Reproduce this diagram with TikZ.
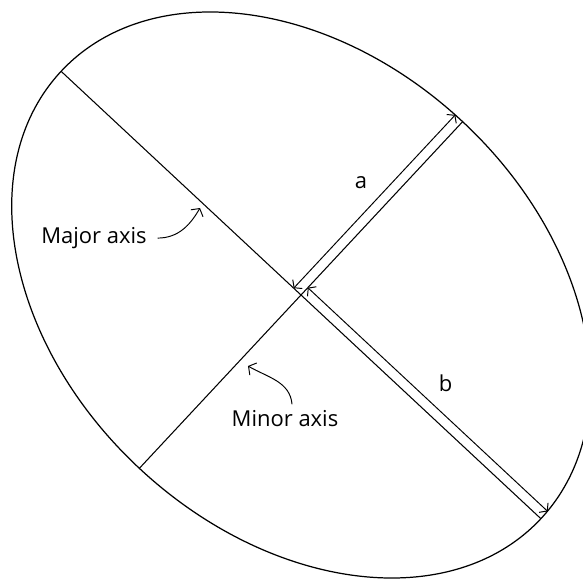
\documentclass[tikz,border=0pt]{standalone}
\usepackage{fontspec}
\setmainfont{Open Sans}
\usetikzlibrary{arrows.meta,positioning,calc}

\begin{document}
\begin{tikzpicture}[
    axisline/.style={line width=0.6pt},
    dimarrow/.style={line width=0.55pt, {Straight Barb[length=1mm,width=2.6mm]}-{Straight Barb[length=1mm,width=2.6mm]}},
    callout/.style={line width=0.55pt, -{Straight Barb[length=1.1mm,width=2.8mm]}},
    lbl/.style={font=\fontsize{12.5}{15}\selectfont, anchor=base, inner sep=3pt}
  ]
    \useasboundingbox (-6.02,-5.76) rectangle (5.64,5.90);
    % Ellipse
    \coordinate (O) at (0,0);
    \draw[line width=0.7pt, rotate=-43] (O) ellipse (6.56 and 4.74);
    % Axes
    \coordinate (majA) at (137:6.56);
    \coordinate (majB) at (-43:6.56);
    \coordinate (minA) at (47:4.74);
    \coordinate (minB) at (227:4.74);
    \draw[axisline] (majA) -- (majB);
    \draw[axisline] (minA) -- (minB);
    % a and b
    \coordinate (aS) at ($(O)+(137:0.2)$);
    \coordinate (aE) at ($(minA)+(137:0.2)$);
    \coordinate (bS) at ($(O)+(47:0.2)$);
    \coordinate (bE) at ($(majB)+(47:0.2)$);
    \draw[dimarrow] (aS) -- (aE);
    \draw[dimarrow] (bS) -- (bE);
    \node[lbl] (alabel) at (1.2, 2.14) {a};
    \node[lbl] (blabel) at (2.89, -1.92) {b};
    % Labels of the axes
    \node[lbl] (major) at (-4.14, 1.03) {Major axis};
    \coordinate (majtip) at (-2.02, 1.74);
    \draw[callout] ([xshift=3pt]major.east) to[out=0, in=240] (majtip);
    \node[lbl] (minor) at (-0.32, -2.62) {Minor axis};
    \coordinate (mintip) at (-1.06, -1.42);
    \draw[callout] ([xshift=4pt]minor.north) to[out=95, in=-30] (mintip);
  \end{tikzpicture}
\end{document}
